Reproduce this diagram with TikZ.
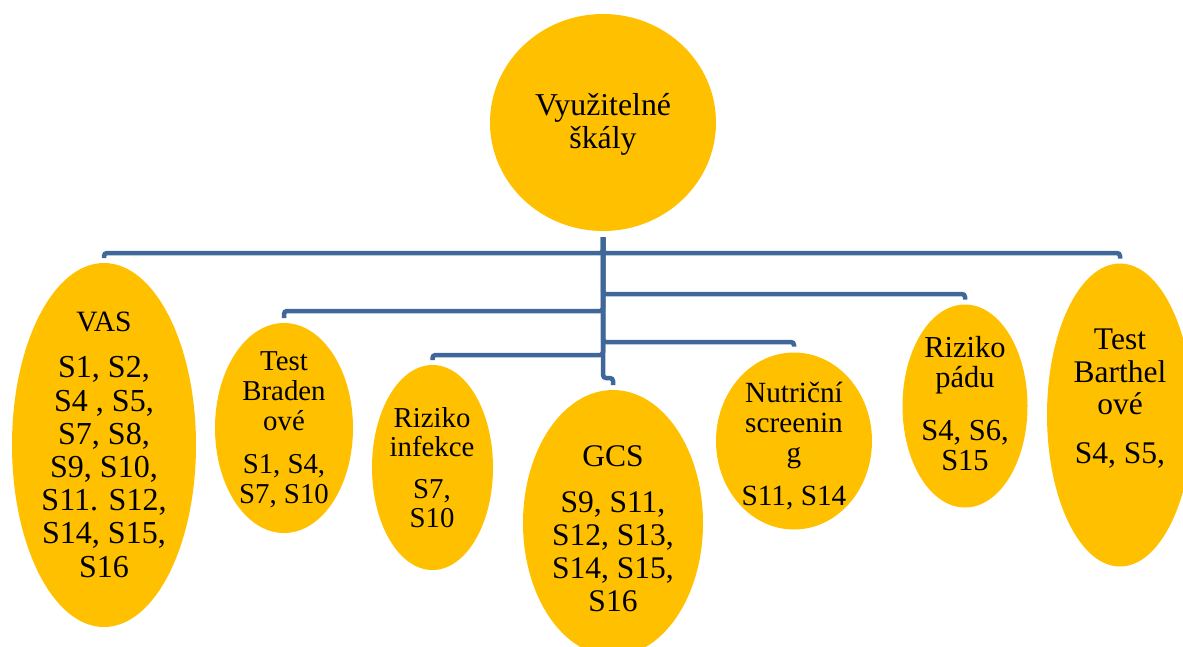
\documentclass[tikz,border=0pt]{standalone}
\usepackage{fontspec}
\setmainfont{Liberation Serif}
\usetikzlibrary{shapes.geometric,calc}
\definecolor{gold}{RGB}{255,192,0}
\definecolor{linkblue}{RGB}{64,103,153}
\begin{document}
\begin{tikzpicture}[x=1pt,y=-1pt,
  blob/.style={ellipse,fill=gold,draw=none,inner sep=0pt,outer sep=0pt},
  txt/.style={align=center,inner sep=0pt,anchor=base,text=black},
  conn/.style={draw=linkblue,line width=4.5pt,rounded corners=3pt}]
\useasboundingbox (0,0) rectangle (1183,646);
\clip (0,0) rectangle (1183,646);
% ellipses
\node[blob,minimum width=226,minimum height=217] (root) at (603,122.5) {};
\node[blob,minimum width=184,minimum height=364] (vas) at (104,445) {};
\node[blob,minimum width=138,minimum height=210] (braden) at (284,428) {};
\node[blob,minimum width=121,minimum height=205] (infekce) at (432.5,467.5) {};
\node[blob,minimum width=180,minimum height=266] (gcs) at (613,523) {};
\node[blob,minimum width=156,minimum height=177] (nutri) at (794,441) {};
\node[blob,minimum width=125,minimum height=203] (padu) at (965,406) {};
\node[blob,minimum width=146,minimum height=303] (barthel) at (1120,415) {};
% texts (anchored at the baseline of the last line)
\node[txt,font=\fontsize{31.8}{33}\selectfont] (rootT) at (603,148) {Využitelné\\škály};
\node[txt,font=\fontsize{32}{33.2}\selectfont] (vasT) at (104,577) {{\fontsize{29.5}{33}\selectfont VAS}\\[13pt]S1, S2,\\S4 , S5,\\S7, S8,\\S9, S10,\\S11. S12,\\S14, S15,\\S16};
\node[txt,font=\fontsize{28.8}{30}\selectfont] (bradenT) at (284,503) {Test\\Braden\\ové\\[13pt]S1, S4,\\S7, S10};
\node[txt,font=\fontsize{28.8}{29}\selectfont] (infekceT) at (432,527) {Riziko\\infekce\\[13pt]S7,\\S10};
\node[txt,font=\fontsize{31.5}{33}\selectfont] (gcsT) at (613,611) {GCS\\[13pt]S9, S11,\\S12, S13,\\S14, S15,\\S16};
\node[txt,font=\fontsize{29.3}{30}\selectfont] (nutriT) at (794,505) {Nutriční\\screenin\\g\\[13pt]S11, S14};
\node[txt,font=\fontsize{30.5}{30}\selectfont] (paduT) at (965,470) {Riziko\\pádu\\[23pt]S4, S6,\\S15};
\node[txt,font=\fontsize{31.5}{32.5}\selectfont] (barthelT) at (1120,463) {Test\\Barthel\\ové\\[16pt]S4, S5,};
% connectors
\coordinate (trunk) at ($(root.south)+(0,6)$);
\draw[conn] (trunk) -- (trunk |- 0,253) -| ($(vas.north)+(0,-5)$);
\draw[conn] (trunk) -- (trunk |- 0,253) -| ($(barthel.north)+(0,-5)$);
\draw[conn] (trunk) -- (trunk |- 0,294) -| ($(padu.north)+(0,-5)$);
\draw[conn] (trunk) -- (trunk |- 0,311) -| ($(braden.north)+(0,-5)$);
\draw[conn] (trunk) -- (trunk |- 0,342) -| ($(nutri.north)+(0,-6)$);
\draw[conn] (trunk) -- (trunk |- 0,355) -| ($(infekce.north)+(0,-5)$);
\draw[conn] (trunk) -- (trunk |- 0,378) -| ($(gcs.north)+(0,-5)$);
\end{tikzpicture}
\end{document}
